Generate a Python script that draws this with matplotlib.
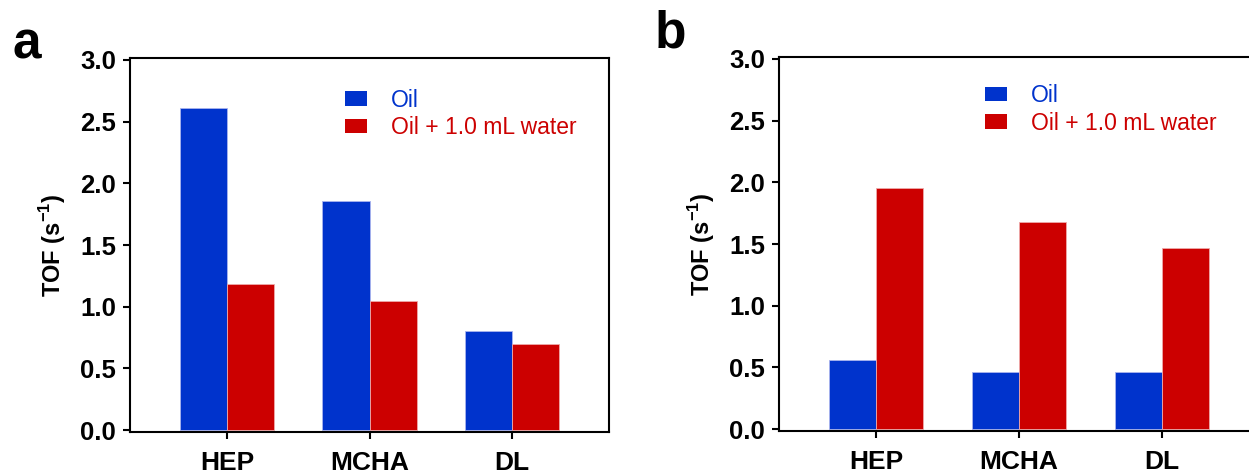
import matplotlib
matplotlib.use('Agg')
import matplotlib.pyplot as plt
from matplotlib.patches import Patch
import numpy as np

plt.rcParams['font.family'] = ['Liberation Sans', 'DejaVu Sans']

# data
categories = ['HEP', 'MCHA', 'DL']
oil_a = [2.61, 1.86, 0.80]
water_a = [1.18, 1.05, 0.70]
oil_b = [0.56, 0.46, 0.46]
water_b = [1.95, 1.68, 1.47]
series_labels = ['Oil', 'Oil + 1.0 mL water']

blue = '#0033CC'
red = '#CC0000'

W, H = 1249, 473
fig = plt.figure(figsize=(W / 100, H / 100), dpi=100)

def make_panel(rect, oil, water, letter, letter_xy, leg_anchor):
    ax = fig.add_axes(rect)
    x = np.arange(len(categories))
    w = 0.33
    ax.bar(x - w / 2, oil, w, color=blue, edgecolor='#aab4ee', linewidth=0.6)
    ax.bar(x + w / 2, water, w, color=red, edgecolor='#eeaaaa', linewidth=0.6)
    ax.set_xlim(-0.68, 2.68)
    ax.set_ylim(-0.016, 3.016)
    ax.set_yticks(np.arange(0, 3.01, 0.5))
    ax.set_yticklabels(['%.1f' % v for v in np.arange(0, 3.01, 0.5)],
                       fontsize=18.5, fontweight='bold')
    ax.set_xticks(x)
    ax.set_xticklabels(categories, fontsize=19, fontweight='bold')
    for s in ax.spines.values():
        s.set_linewidth(1.5)
    ax.tick_params(axis='both', direction='out', length=5, width=1.5)
    ax.tick_params(axis='y', pad=5)
    ax.tick_params(axis='x', pad=9)
    ax.set_ylabel('TOF (s$^{\\mathregular{-1}}$)', fontsize=17, fontweight='bold', labelpad=9)
    handles = [Patch(facecolor=blue), Patch(facecolor=red)]
    leg = ax.legend(handles, series_labels, loc='upper left', bbox_to_anchor=leg_anchor,
                    frameon=False, fontsize=16.5, handlelength=0.95, handleheight=0.6,
                    handletextpad=1.05, labelspacing=0.2, borderaxespad=0, borderpad=0)
    for t, c in zip(leg.get_texts(), [blue, red]):
        t.set_color(c)
    fig.text(letter_xy[0], letter_xy[1], letter, fontsize=37, fontweight='bold',
             ha='left', va='baseline')
    return ax

make_panel([130 / W, 1 - 432 / H, 479 / W, 374 / H], oil_a, water_a, 'a',
           (12 / W, 1 - 58 / H), (0.449, 0.918))
make_panel([779 / W, 1 - 431 / H, 480 / W, 374 / H], oil_b, water_b, 'b',
           (655 / W, 1 - 47 / H), (0.43, 0.928))

fig.savefig('out.png', dpi=100)
